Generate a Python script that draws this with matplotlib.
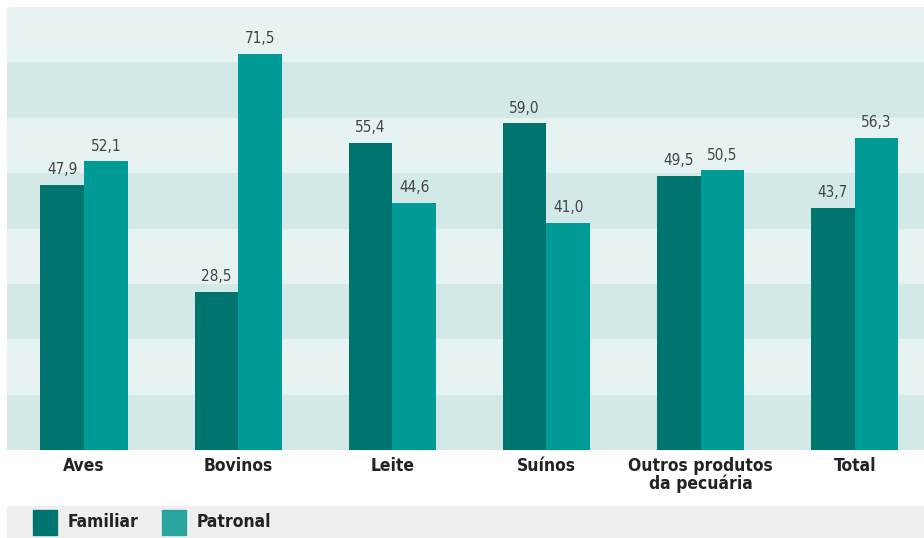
import matplotlib.pyplot as plt
from matplotlib.patches import Rectangle
from matplotlib import font_manager

categorias = ['Aves', 'Bovinos', 'Leite', 'Suínos', 'Outros produtos\nda pecuária', 'Total']
familiar = [47.9, 28.5, 55.4, 59.0, 49.5, 43.7]
patronal = [52.1, 71.5, 44.6, 41.0, 50.5, 56.3]
series = ['Familiar', 'Patronal']

cor_fam = '#00756f'
cor_pat = '#009b96'

nomes = sorted({f.name + ' | ' + str(f.stretch) for f in font_manager.fontManager.ttflist})
print('\n'.join(nomes))

fig = plt.figure(figsize=(9.24, 5.38), dpi=100)
ax = fig.add_axes([7 / 924, 88 / 538, 917 / 924, 443 / 538])

# faixas horizontais de fundo
for i in range(8):
    cor = '#d2e9e7' if i % 2 == 0 else '#e7f3f3'
    ax.axhspan(i * 10, (i + 1) * 10, color=cor, zorder=0, lw=0)

x = list(range(len(categorias)))
w = 0.283
b1 = ax.bar([p - w / 2 for p in x], familiar, w, color=cor_fam, zorder=2)
b2 = ax.bar([p + w / 2 for p in x], patronal, w, color=cor_pat, zorder=2)

for barras in (b1, b2):
    for r in barras:
        v = r.get_height()
        ax.text(r.get_x() + r.get_width() / 2, v + 1.4, f'{v:.1f}'.replace('.', ','),
                ha='center', va='bottom', fontsize=11, color='#444444',
                family='DejaVu Sans', fontstretch='condensed')

ax.set_xlim(-0.5, 5.45)
ax.set_ylim(0, 80)
ax.set_yticks([])
ax.set_xticks(x)
ax.set_xticklabels(categorias, fontsize=12.5, fontweight='bold', color='#222222',
                   family='DejaVu Sans', fontstretch='condensed', linespacing=0.95, va='top')
ax.tick_params(axis='x', length=0, pad=5)
for s in ax.spines.values():
    s.set_visible(False)

# legenda em faixa cinza
fig.patches.append(Rectangle((7 / 924, 0), 917 / 924, 32 / 538, transform=fig.transFigure,
                             color='#efefef', zorder=0))
for xp, cor, nome in [(33, cor_fam, series[0]), (162, '#2ba39f', series[1])]:
    fig.patches.append(Rectangle((xp / 924, 3 / 538), 24 / 924, 25 / 538,
                                 transform=fig.transFigure, color=cor, zorder=1))
    fig.text((xp + 35) / 924, 16 / 538, nome, fontsize=12.5, fontweight='bold',
             color='#222222', family='DejaVu Sans', fontstretch='condensed',
             va='center', ha='left')

fig.savefig('out.png', dpi=100)
